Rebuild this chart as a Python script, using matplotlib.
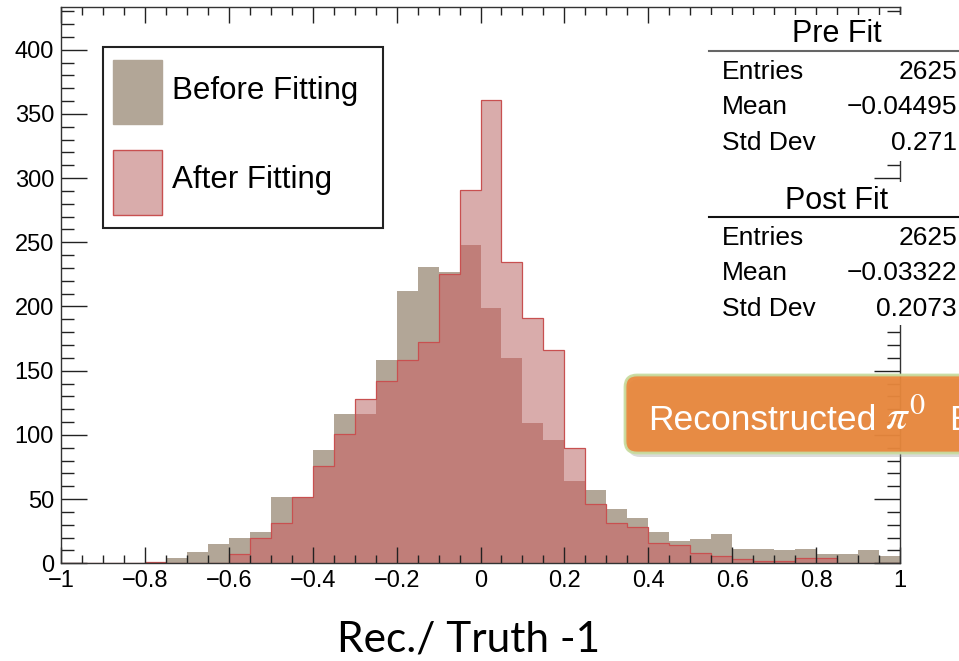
import numpy as np
import matplotlib.pyplot as plt
from matplotlib.patches import Rectangle, FancyBboxPatch
from matplotlib.ticker import MultipleLocator, FuncFormatter
from matplotlib.transforms import IdentityTransform
from matplotlib.lines import Line2D

# 40 bins of width 0.05 between -1 and 1
edges = np.linspace(-1, 1, 41)
before = np.array([0, 0, 0, 0, 1, 4, 9, 15, 20, 24,
                   52, 52, 88, 116, 116, 158, 212, 231, 227, 248,
                   199, 160, 109, 96, 64, 57, 42, 35, 24, 17,
                   19, 23, 11, 11, 10, 11, 7, 7, 10, 6])
after = np.array([0, 0, 0, 0, 1, 0, 0, 0, 7, 20,
                  31, 52, 76, 101, 128, 142, 158, 172, 225, 291,
                  361, 235, 191, 166, 90, 46, 31, 28, 16, 14,
                  8, 6, 3, 2, 2, 4, 4, 0, 0, 0])

legend_labels = ["Before Fitting", "After Fitting"]
stat_names = ["Entries", "Mean", "Std Dev"]
pre_stats = ["2625", "\u22120.04495", "0.271"]
post_stats = ["2625", "\u22120.03322", "0.2073"]

grey = "#B2A697"
pink = "#D9ACAB"
dark = "#C07E79"
red = "#C85050"

W, H = 959, 661
fig = plt.figure(figsize=(W / 100, H / 100), dpi=100)
fig.patch.set_facecolor("white")
ax = fig.add_axes([61 / W, 1 - 563.3 / H, (900 - 61) / W, (563.3 - 7.3) / H])

ax.stairs(before, edges, fill=True, color=grey, lw=0)
ax.stairs(after, edges, fill=True, color=pink, lw=0)
ax.stairs(np.minimum(before, after), edges, fill=True, color=dark, lw=0)
ax.stairs(after, edges, color=red, lw=0.9)

ax.set_xlim(-1, 1)
ax.set_ylim(0, 433)

def fmt(v, pos):
    v = round(v, 6)
    if v == 0:
        return "0"
    return f"{v:g}".replace("-", "\u2212")

ax.xaxis.set_major_locator(MultipleLocator(0.2))
ax.xaxis.set_minor_locator(MultipleLocator(0.05))
ax.yaxis.set_major_locator(MultipleLocator(50))
ax.yaxis.set_minor_locator(MultipleLocator(10))
ax.xaxis.set_major_formatter(FuncFormatter(fmt))
ax.yaxis.set_major_formatter(FuncFormatter(fmt))

ax.tick_params(which="both", direction="in", top=True, right=True,
               labelsize=17, width=1, color="#222222")
ax.tick_params(axis="x", which="major", length=11.5, pad=5)
ax.tick_params(axis="x", which="minor", length=5.8)
ax.tick_params(axis="y", which="major", length=18.5, pad=5)
ax.tick_params(axis="y", which="minor", length=9.4)
for lab in ax.get_xticklabels() + ax.get_yticklabels():
    lab.set_family("Liberation Sans")
for sp in ax.spines.values():
    sp.set_linewidth(1)
    sp.set_color("#333333")

# overlays in pixel coordinates (origin top-left)
disp = IdentityTransform()

def box(x0, y0, x1, y1, **kw):
    return Rectangle((x0, H - y1), x1 - x0, y1 - y0, transform=disp, **kw)

def label(x, y, s, **kw):
    fig.text(x, H - y, s, transform=disp, **kw)

# legend
fig.add_artist(box(103, 47, 383, 228, facecolor="white", edgecolor="#222222", lw=1.5))
fig.add_artist(box(113, 60, 162, 124, facecolor=grey, edgecolor=grey, lw=1))
fig.add_artist(box(113, 150, 162, 215, facecolor=pink, edgecolor=red, lw=1))
label(172, 91, legend_labels[0], fontsize=22.5, family="Liberation Sans", va="center")
label(172, 180, legend_labels[1], fontsize=22.5, family="Liberation Sans", va="center")

# statistics boxes
def stats_box(top, bottom, title, title_y, line_y, line_color, rows, values):
    fig.add_artist(box(709, top, 962, bottom, facecolor="white", edgecolor="none"))
    label(837, title_y, title, fontsize=22, family="Liberation Sans", ha="center", va="center")
    fig.add_artist(Line2D([709, 962], [H - line_y, H - line_y], transform=disp,
                          color=line_color, lw=1.5))
    for i, (n, v) in enumerate(zip(rows, values)):
        y = line_y + 21 + i * 35.5
        label(722, y, n, fontsize=19, family="Liberation Sans", va="center")
        label(957, y, v, fontsize=19, family="Liberation Sans", va="center", ha="right")

stats_box(15, 161, "Pre Fit", 34, 51, "#666666", stat_names, pre_stats)
stats_box(182, 325, "Post Fit", 201, 217, "#111111", stat_names, post_stats)

# orange annotation box running off the right edge
fig.add_artist(FancyBboxPatch((628, H - 457), 400, 78, transform=disp,
                              boxstyle="round,pad=0,rounding_size=12",
                              facecolor="#999999", edgecolor="none", alpha=0.35))
fig.add_artist(FancyBboxPatch((625, H - 453), 400, 78, transform=disp,
                              boxstyle="round,pad=0,rounding_size=12",
                              facecolor="#E8863A", edgecolor="#C8DCA0", lw=2, alpha=0.94))
plt.rcParams["mathtext.fontset"] = "stix"
label(648, 430, "Reconstructed", fontsize=25.5, family="Liberation Sans",
      color="white", va="baseline")
label(885, 430, r"$\pi^0$", fontsize=31, color="white", va="baseline")
label(949, 430, "Energy", fontsize=25.5, family="Liberation Sans",
      color="white", va="baseline")

# x-axis title
label(469, 639, "Rec./ Truth -1", fontsize=30.5, family="Lato", ha="center", va="center")

fig.savefig("out.png", dpi=100)
